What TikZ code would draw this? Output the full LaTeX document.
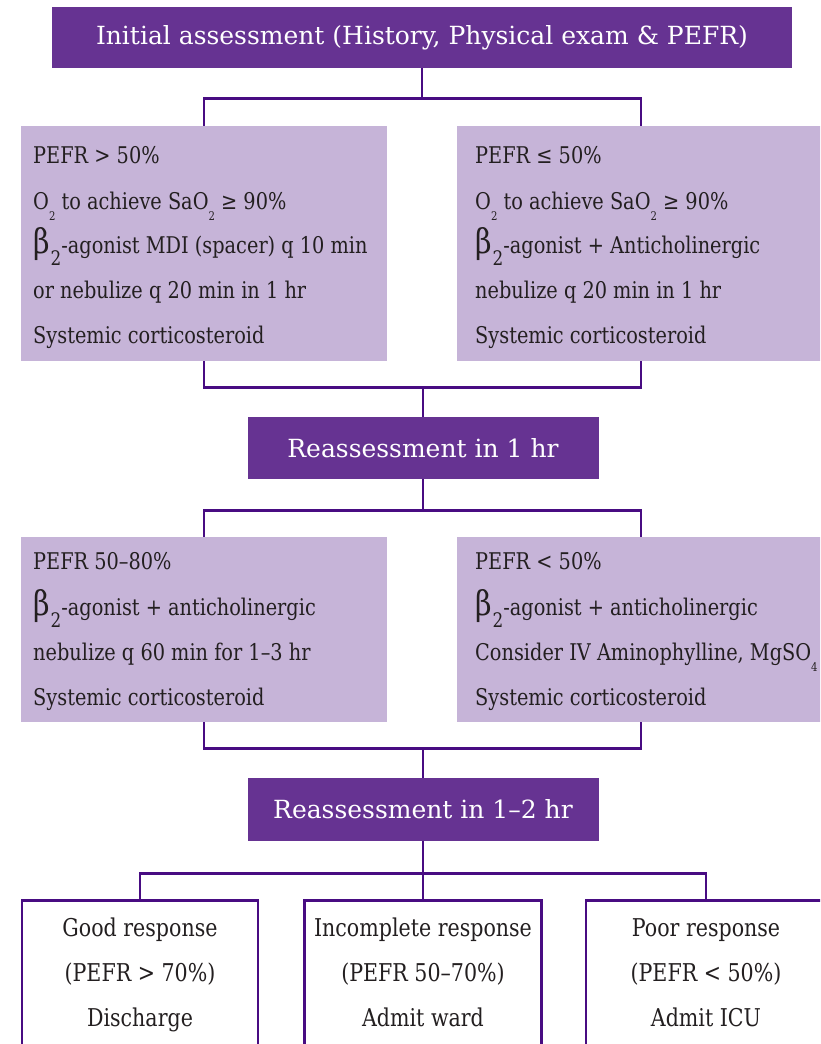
\documentclass[tikz,border=0pt]{standalone}
\usepackage{fontspec}
\setmainfont[FakeStretch=0.84]{DejaVu Serif}
\newfontfamily\headfont{DejaVu Serif}
\definecolor{lineC}{RGB}{72,12,130}
\definecolor{darkP}{RGB}{102,51,146}
\definecolor{lightP}{RGB}{198,180,216}
\definecolor{txtC}{RGB}{35,31,32}
\newcommand\tinysub[1]{\raisebox{-11pt}{\fontsize{12}{12}\selectfont #1}}
\newcommand\betatwo{{\fontsize{34}{34}\selectfont β}\kern1pt\raisebox{-12pt}{\fontsize{20}{20}\selectfont 2}}
\tikzset{
  conn/.style={draw=lineC, line width=2.8pt},
  headbox/.style={fill=darkP, text=white, inner sep=0pt},
  lightbox/.style={fill=lightP, inner sep=0pt},
  outbox/.style={draw=lineC, line width=2.8pt, fill=white, inner sep=0pt},
  txt/.style={inner sep=0pt, anchor=base west, text=txtC, font=\fontsize{23}{23}\selectfont},
  ctxt/.style={inner sep=0pt, anchor=base, text=txtC, font=\fontsize{24.5}{24.5}\selectfont},
}
\begin{document}
\begin{tikzpicture}[x=1pt,y=-1pt]
\useasboundingbox (0,0) rectangle (820,1044);
\clip (0,0) rectangle (820,1044);
% boxes
\node[headbox, minimum width=740pt, minimum height=61pt, font=\headfont\fontsize{25}{25}\selectfont] (t) at (422,37.5) {Initial assessment (History, Physical exam \& PEFR)};
\node[lightbox, minimum width=366pt, minimum height=235pt] (a1) at (204,243.5) {};
\node[lightbox, minimum width=368pt, minimum height=235pt] (b1) at (641,243.5) {};
\node[headbox, minimum width=351pt, minimum height=62pt, font=\headfont\fontsize{25}{25}\selectfont] (r1) at (423,448) {Reassessment in 1 hr};
\node[lightbox, minimum width=366pt, minimum height=185pt] (a2) at (204,629.5) {};
\node[lightbox, minimum width=368pt, minimum height=185pt] (b2) at (641,629.5) {};
\node[headbox, minimum width=351pt, minimum height=63pt, font=\headfont\fontsize{25}{25}\selectfont] (r2) at (423,809.5) {Reassessment in 1–2 hr};
\node[outbox, minimum width=236pt, minimum height=170pt, anchor=north] (g) at (140,899) {};
\node[outbox, minimum width=237pt, minimum height=170pt, anchor=north] (m) at (423,899) {};
\node[outbox, minimum width=240pt, minimum height=170pt, anchor=north] (p) at (706,899) {};
% connectors
\draw[conn] (t.south) -- ++(0,30) -| (a1.north);
\draw[conn] (t.south) -- ++(0,30) -| (b1.north);
\draw[conn] (a1.south) -- ++(0,26) -| (r1.north);
\draw[conn] (b1.south) -- ++(0,26) -| (r1.north);
\draw[conn] (r1.south) -- ++(0,31) -| (a2.north);
\draw[conn] (r1.south) -- ++(0,31) -| (b2.north);
\draw[conn] (a2.south) -- ++(0,26) -| (r2.north);
\draw[conn] (b2.south) -- ++(0,26) -| (r2.north);
\draw[conn] (r2.south) -- ++(0,32) -| (g.north);
\draw[conn] (r2.south) -- (m.north);
\draw[conn] (r2.south) -- ++(0,32) -| (p.north);
% texts row 1
\node[txt] (a1t1) at (33,163) {PEFR > 50\%};
\node[txt] (a1t2) at (33,209) {O\tinysub{2} to achieve SaO\tinysub{2} ≥ 90\%};
\node[txt] (a1t3) at (33,253) {\betatwo-agonist MDI (spacer) q 10 min};
\node[txt] (a1t4) at (33,298) {or nebulize q 20 min in 1 hr};
\node[txt] (a1t5) at (33,343) {Systemic corticosteroid};
\node[txt] (b1t1) at (475,163) {PEFR ≤ 50\%};
\node[txt] (b1t2) at (475,209) {O\tinysub{2} to achieve SaO\tinysub{2} ≥ 90\%};
\node[txt] (b1t3) at (475,253) {\betatwo-agonist + Anticholinergic};
\node[txt] (b1t4) at (475,298) {nebulize q 20 min in 1 hr};
\node[txt] (b1t5) at (475,343) {Systemic corticosteroid};
% texts row 2
\node[txt] (a2t1) at (33,569) {PEFR 50–80\%};
\node[txt] (a2t2) at (33,615) {\betatwo-agonist + anticholinergic};
\node[txt] (a2t3) at (33,660) {nebulize q 60 min for 1–3 hr};
\node[txt] (a2t4) at (33,705) {Systemic corticosteroid};
\node[txt] (b2t1) at (475,569) {PEFR < 50\%};
\node[txt] (b2t2) at (475,615) {\betatwo-agonist + anticholinergic};
\node[txt] (b2t3) at (475,660) {Consider IV Aminophylline, MgSO\tinysub{4}};
\node[txt] (b2t4) at (475,705) {Systemic corticosteroid};
% bottom texts
\node[ctxt] (g1) at (140,936) {Good response};
\node[ctxt] (g2) at (140,981) {(PEFR > 70\%)};
\node[ctxt] (g3) at (140,1026) {Discharge};
\node[ctxt] (m1) at (423,936) {Incomplete response};
\node[ctxt] (m2) at (423,981) {(PEFR 50–70\%)};
\node[ctxt] (m3) at (423,1026) {Admit ward};
\node[ctxt] (p1) at (706,936) {Poor response};
\node[ctxt] (p2) at (706,981) {(PEFR < 50\%)};
\node[ctxt] (p3) at (706,1026) {Admit ICU};
\end{tikzpicture}
\end{document}
